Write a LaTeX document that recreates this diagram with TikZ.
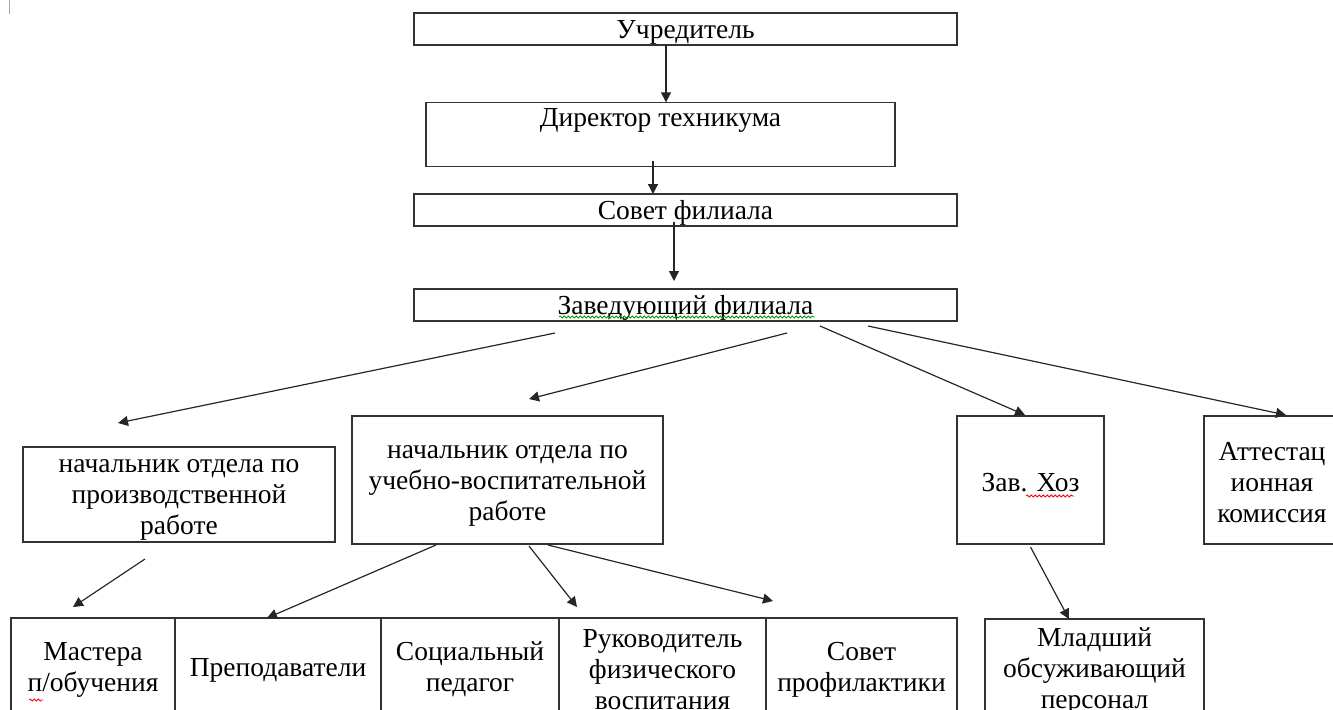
\documentclass[tikz,border=0pt]{standalone}
\usepackage{fontspec}
\setmainfont{Liberation Serif}
\usetikzlibrary{arrows.meta,decorations.pathmorphing}
\newcommand{\lup}{\rule{0pt}{12pt}}

\begin{document}
\begin{tikzpicture}[x=0.5pt,y=-0.5pt,
        box/.style={draw=black!80,line width=0.6pt,rectangle,inner sep=0pt,outer sep=0pt,align=center,
            font=\fontsize{13.75}{15.5}\selectfont},
        arr/.style={-{Triangle[length=5pt,width=5pt]},line width=0.6pt,black!85},
        spell/.style={decorate,decoration={snake,amplitude=0.5pt,segment length=2pt},line width=0.4pt}]
            \useasboundingbox (0,0) rectangle (1333,709);
            \clip (0,0) rectangle (1333,709);
            \draw[gray!70,line width=0.8pt] (9.5,0) -- (9.5,14);

            \node[box,minimum width=271.5pt,minimum height=16pt] (uchr) at (685.5,29) {\lup Учредитель};
            \node[box,minimum width=234.5pt,minimum height=31.5pt] (dir) at (660.5,134.5) {\lup Директор техникума\\\strut};
            \node[box,minimum width=271.5pt,minimum height=16pt] (sovet) at (685.5,210) {\lup Совет филиала};
            \node[box,minimum width=271.5pt,minimum height=16pt] (zav) at (685.5,305) {\lup Заведующий филиала};

            \node[box,minimum width=156pt,minimum height=47.5pt] (prod) at (179,494.5) {\lup начальник отдела по\\производственной\\работе};
            \node[box,minimum width=155.5pt,minimum height=64pt] (uchebn) at (507.5,480) {\lup начальник отдела по\\учебно-воспитательной\\работе};
            \node[box,minimum width=73.5pt,minimum height=64pt] (hoz) at (1030.5,480) {\lup Зав. Хоз};
            \node[box,minimum width=68pt,minimum height=64pt] (att) at (1272,480) {\lup Аттестац\\ионная\\комиссия};

            \node[box,minimum width=82pt,minimum height=49pt] (mast) at (93,667) {\lup Мастера\\п/обучения};
            \node[box,minimum width=103pt,minimum height=49pt] (prep) at (278,667) {\lup Преподаватели};
            \node[box,minimum width=89pt,minimum height=49pt] (soc) at (470,667) {\lup Социальный\\педагог};
            \node[box,minimum width=103.5pt,minimum height=49pt] (ruk) at (662.5,667) {\lup Руководитель\\физического\\воспитания};
            \node[box,minimum width=95.5pt,minimum height=49pt] (sovprof) at (861.5,667) {\lup Совет\\профилактики};
            \node[box,minimum width=109.5pt,minimum height=49pt] (mlad) at (1094.5,668) {\lup Младший\\обсуживающий\\персонал};

            \draw[arr] ([xshift=-9.75pt]uchr.south) -- ([xshift=-9.75pt]uchr.south |- dir.north);
            \draw[arr] ([xshift=-3.75pt,yshift=3pt]dir.south) -- ([xshift=-3.75pt]dir.south |- sovet.north);
            \draw[arr] ([xshift=-5.75pt,yshift=2pt]sovet.south) -- ([xshift=-5.75pt,yshift=4pt]zav.north);
            \draw[arr] ([xshift=-65.25pt,yshift=-6pt]zav.south) -- ([xshift=-30.5pt,yshift=12pt]prod.north);
            \draw[arr] ([xshift=50.75pt,yshift=-6pt]zav.south) -- ([xshift=10.75pt,yshift=8.5pt]uchebn.north);
            \draw[arr] ([xshift=67.25pt,yshift=-2.5pt]zav.south) -- ([xshift=-2.75pt,yshift=0.5pt]hoz.north);
            \draw[arr] ([xshift=91.25pt,yshift=-2.5pt]zav.south) -- ([xshift=7pt,yshift=0.5pt]att.north);
            \draw[arr] ([xshift=-17pt,yshift=-8.5pt]prod.south) -- ([xshift=-10pt,yshift=5.5pt]mast.north);
            \draw[arr] ([xshift=-35.75pt,yshift=-0.5pt]uchebn.south) -- ([xshift=-5.5pt]prep.north);
            \draw[arr] ([xshift=10.75pt,yshift=-1pt]uchebn.south) -- ([xshift=-42.75pt,yshift=5.5pt]ruk.north);
            \draw[arr] ([xshift=20.25pt,yshift=-0.5pt]uchebn.south) -- ([xshift=-44.25pt,yshift=8.5pt]sovprof.north);
            \draw[arr] ([yshift=-1.5pt]hoz.south) -- ([xshift=-12.75pt]mlad.north);

            \draw[spell,green!60!black] (559,317) -- (815,317);
            \draw[spell,red] (1026,496) -- (1074,496);
            \draw[spell,red] (29,700) -- (43,700);
        \end{tikzpicture}
\end{document}
